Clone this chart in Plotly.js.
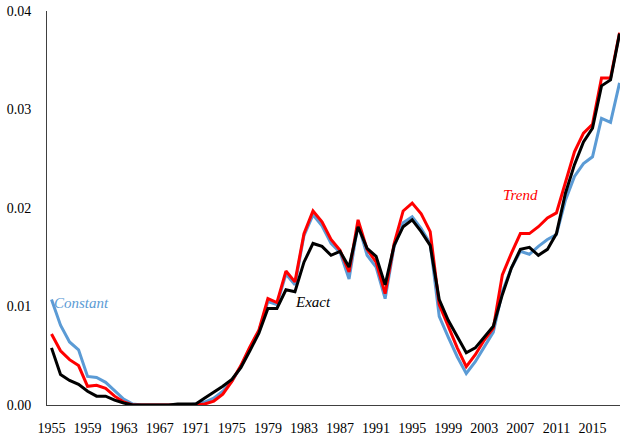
<!DOCTYPE html>
<html>
<head>
<meta charset="utf-8">
<script src="https://cdn.plot.ly/plotly-3.0.1.min.js"></script>
<style>
html,body{margin:0;padding:0;background:#fff;}
#chart{width:620px;height:437px;}
</style>
</head>
<body>
<div id="chart"></div>
<script>
var years = [];
for (var yr = 1955; yr <= 2018; yr++) years.push(yr);

var constantSeries = [
  0.0107, 0.0081, 0.0064, 0.0056, 0.0029, 0.0028, 0.0023, 0.0014, 0.0006, 0.0001,
  0.0000, 0.0000, 0.0000, 0.0000, 0.0000, 0.0000, 0.0001, 0.0003, 0.0007, 0.0014,
  0.0024, 0.0039, 0.0058, 0.0075, 0.0105, 0.0102, 0.0133, 0.0122, 0.0172, 0.0193,
  0.0182, 0.0164, 0.0155, 0.0128, 0.0184, 0.0152, 0.0140, 0.0108, 0.0161, 0.0185,
  0.0191, 0.0179, 0.0164, 0.0090, 0.0069, 0.0049, 0.0032, 0.0044, 0.0059, 0.0074,
  0.0115, 0.0139, 0.0156, 0.0153, 0.0161, 0.0168, 0.0173, 0.0208, 0.0232, 0.0245,
  0.0252, 0.0291, 0.0287, 0.0327
];

var trendSeries = [
  0.0072, 0.0055, 0.0046, 0.0040, 0.0019, 0.0020, 0.0017, 0.0009, 0.0003, 0.0000,
  0.0000, 0.0000, 0.0000, 0.0000, 0.0000, 0.0000, 0.0000, 0.0001, 0.0004, 0.0011,
  0.0024, 0.0040, 0.0059, 0.0076, 0.0108, 0.0104, 0.0136, 0.0125, 0.0174, 0.0197,
  0.0186, 0.0168, 0.0157, 0.0135, 0.0188, 0.0158, 0.0145, 0.0113, 0.0164, 0.0197,
  0.0205, 0.0194, 0.0176, 0.0102, 0.0080, 0.0058, 0.0039, 0.0051, 0.0066, 0.0078,
  0.0132, 0.0154, 0.0174, 0.0174, 0.0181, 0.0190, 0.0195, 0.0227, 0.0257, 0.0276,
  0.0285, 0.0332, 0.0332, 0.0378
];

var exactSeries = [
  0.0058, 0.0031, 0.0025, 0.0021, 0.0014, 0.0009, 0.0009, 0.0005, 0.0002, 0.0000,
  0.0000, 0.0000, 0.0000, 0.0000, 0.0001, 0.0001, 0.0001, 0.0007, 0.0013, 0.0019,
  0.0026, 0.0038, 0.0055, 0.0073, 0.0098, 0.0098, 0.0117, 0.0115, 0.0145, 0.0164,
  0.0161, 0.0152, 0.0156, 0.0140, 0.0181, 0.0159, 0.0151, 0.0122, 0.0162, 0.0181,
  0.0188, 0.0176, 0.0162, 0.0107, 0.0086, 0.0069, 0.0053, 0.0058, 0.0069, 0.0080,
  0.0112, 0.0139, 0.0158, 0.0160, 0.0152, 0.0158, 0.0174, 0.0215, 0.0244, 0.0267,
  0.0281, 0.0324, 0.0330, 0.0377
];

var xTickVals = [1955, 1959, 1963, 1967, 1971, 1975, 1979, 1983, 1987, 1991, 1995, 1999, 2003, 2007, 2011, 2015];
var yTickVals = [0, 0.01, 0.02, 0.03, 0.04];
var yTickText = ['0.00', '0.01', '0.02', '0.03', '0.04'];

var seriesNames = ['Constant', 'Trend', 'Exact'];
var seriesColors = ['#5B9BD5', '#FF0000', '#000000'];
var seriesData = [constantSeries, trendSeries, exactSeries];

var traces = seriesData.map(function (vals, i) {
  return {
    x: years, y: vals, type: 'scatter', mode: 'lines', name: seriesNames[i],
    line: {color: seriesColors[i], width: 3}, hoverinfo: 'skip', cliponaxis: true
  };
});

var fontFam = '"Liberation Serif", "DejaVu Serif", serif';

var layout = {
  width: 620, height: 437,
  margin: {l: 47, r: 0, t: 11, b: 32, pad: 0},
  paper_bgcolor: '#ffffff', plot_bgcolor: '#ffffff',
  showlegend: false,
  font: {family: fontFam, size: 14, color: '#000'},
  xaxis: {
    range: [1954.5, 2018.05],
    tickvals: xTickVals, ticktext: xTickVals.map(String),
    showgrid: false, zeroline: false,
    showline: true, linecolor: '#404040', linewidth: 1,
    ticks: 'outside', ticklen: 10, tickcolor: 'rgba(0,0,0,0)',
    tickfont: {family: fontFam, size: 14, color: '#000'}
  },
  yaxis: {
    range: [0, 0.04],
    tickvals: yTickVals, ticktext: yTickText,
    showgrid: false, zeroline: false,
    showline: true, linecolor: '#404040', linewidth: 1,
    ticks: 'outside', ticklen: 12, tickcolor: 'rgba(0,0,0,0)',
    tickfont: {family: fontFam, size: 14, color: '#000'}
  },
  annotations: [
    {x: 1955, y: 0.01035, xref: 'x', yref: 'y', xanchor: 'left', yanchor: 'middle', showarrow: false,
     text: '<i>Constant</i>', font: {family: fontFam, size: 15, color: '#5B9BD5'}},
    {x: 1984, y: 0.01046, xref: 'x', yref: 'y', xanchor: 'center', yanchor: 'middle', showarrow: false,
     text: '<i>Exact</i>', font: {family: fontFam, size: 15, color: '#000000'}},
    {x: 2007, y: 0.0213, xref: 'x', yref: 'y', xanchor: 'center', yanchor: 'middle', showarrow: false,
     text: '<i>Trend</i>', font: {family: fontFam, size: 15, color: '#FF0000'}}
  ]
};

Plotly.newPlot('chart', traces, layout, {staticPlot: true, displayModeBar: false});
</script>
</body>
</html>
